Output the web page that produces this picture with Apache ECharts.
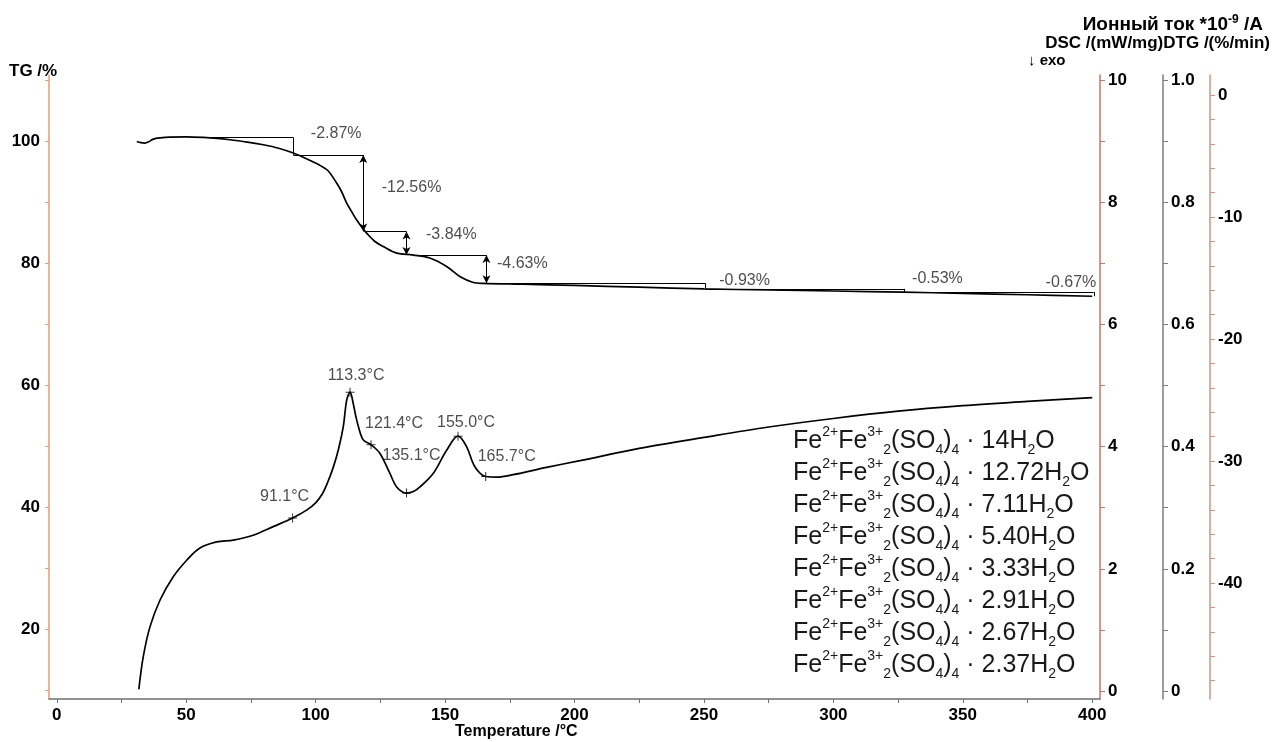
<!DOCTYPE html>
<html>
<head>
<meta charset="utf-8">
<title>TG / DSC</title>
<script src="https://cdn.jsdelivr.net/npm/echarts@6/dist/echarts.min.js"></script>
<style>
  html, body { margin: 0; padding: 0; background: #fff; }
  #chart { width: 1274px; height: 742px; }
</style>
</head>
<body>
<div id="chart"></div>
<script>
// TG curve: temperature (°C) and mass (%)
const tgTemp = [30.9, 32.5, 34.1, 35.5, 37.3, 40, 43.7, 50, 56.6, 62, 66.9, 73, 79.8, 86, 91.4,
  97.9, 102, 104.8, 108.1, 110, 112, 113.9, 115.8, 117.8, 119.7, 122.9, 126.1, 131.3, 137.7, 144.1,
  150.6, 155.7, 160.9, 164.7, 180, 200, 225, 250, 275, 300, 327, 350, 375, 400]
const tgValue = [100.0, 99.8, 99.74, 99.95, 100.39, 100.6, 100.72, 100.75, 100.66, 100.5, 100.28, 99.95, 99.46, 98.85, 98.1,
  96.87, 96.0, 95.2, 93.18, 91.8, 89.9, 88.5, 87.16, 85.97, 84.98, 83.6, 82.79, 81.7, 81.38, 80.89,
  79.51, 77.87, 76.89, 76.74, 76.6, 76.4, 76.12, 75.83, 75.66, 75.49, 75.3, 75.1, 74.87, 74.63]

// DSC curve: temperature (°C) and heat flow (mW/mg)
const dscTemp = [31.7, 33.4, 36, 39.9, 45, 50.2, 55.3, 61.8, 68.2, 75.9, 83.6, 91.1, 96.5, 100,
  102.5, 104.5, 106.8, 108.9, 110.7, 112, 113.3, 114.5, 115.5, 116.5, 118.4, 121.4, 124.8, 128.7, 131.3,
  135.1, 138, 140.3, 145.4, 150.6, 155, 158.3, 161.5, 165.7, 170, 176.3, 189.2, 202.1, 225, 250,
  275, 300, 325, 350, 375, 400]
const dscValue = [0.03, 0.56, 1.05, 1.49, 1.87, 2.14, 2.34, 2.44, 2.47, 2.55, 2.69, 2.83, 2.96, 3.08,
  3.22, 3.4, 3.66, 3.97, 4.33, 4.76, 4.89, 4.71, 4.5, 4.33, 4.11, 4.03, 3.89, 3.56, 3.34,
  3.24, 3.27, 3.34, 3.56, 3.94, 4.17, 4.0, 3.67, 3.51, 3.5, 3.54, 3.66, 3.77, 3.97, 4.15,
  4.32, 4.46, 4.58, 4.67, 4.74, 4.8]

// marked DSC points
const peakTemp = [91.1, 113.3, 121.4, 135.1, 155.0, 165.7]
const peakDsc = [2.83, 4.89, 4.03, 3.24, 4.17, 3.51]

// mass-loss steps
const tgStart = 100.66
const stepLoss = [-2.87, -12.56, -3.84, -4.63, -0.93, -0.53, -0.67]
const stepTemp = [91.4, 118.4, 135.1, 166.0, 250.7, 327.5, 400.6]
const stepFrom = [56.6, 91.4, 119.5, 137.6, 164.7, 250.7, 327.5]

// water content of the hydrate after each step
const hydrateWater = ['14', '12.72', '7.11', '5.40', '3.33', '2.91', '2.67', '2.37']

// axis ticks and labels
const xTicks = [0, 25, 50, 75, 100, 125, 150, 175, 200, 225, 250, 275, 300, 325, 350, 375, 400]
const xLabels = [0, 50, 100, 150, 200, 250, 300, 350, 400]
const tgTicks = [10, 20, 30, 40, 50, 60, 70, 80, 90, 100, 110]
const tgLabels = [20, 40, 60, 80, 100]
const dscTicks = [0, 1, 2, 3, 4, 5, 6, 7, 8, 9, 10]
const dscLabels = [0, 2, 4, 6, 8, 10]
const ionTicks = [0, 0.1, 0.2, 0.3, 0.4, 0.5, 0.6, 0.7, 0.8, 0.9, 1.0]
const ionLabels = [0, 0.2, 0.4, 0.6, 0.8, 1.0]
const dtgTicks = [0, -2, -4, -6, -8, -10, -12, -14, -16, -18, -20, -22, -24, -26, -28, -30,
  -32, -34, -36, -38, -40, -42, -44, -46, -48]
const dtgLabels = [0, -10, -20, -30, -40]

const FONT = '"Liberation Sans", Arial, sans-serif'

// label placement (px) and arrow style per step / peak
const stepArrow = [false, true, true, true, false, false, false]
const stepLabelOffset = [[17, -13], [18, -6], [19, -9], [10, -6], [13, -5], [7, -12], [3, -12]]
const peakLabelOffset = [[-8, -4], [6, 1], [23, -4], [5, -20], [8, 4], [21, -2]]

const levels = [tgStart]
stepLoss.forEach((loss, i) => levels.push(+(levels[i] + loss).toFixed(2)))

const stepLines = []
stepLoss.forEach((loss, i) => {
  stepLines.push([
    { coord: [stepFrom[i], levels[i]], symbol: 'none' },
    { coord: [stepTemp[i], levels[i]], symbol: 'none' }
  ])
  const sym = stepArrow[i] ? 'arrow' : 'none'
  stepLines.push([
    { coord: [stepTemp[i], levels[i]], symbol: sym },
    { coord: [stepTemp[i], levels[i + 1]], symbol: sym }
  ])
})

const rightAxis = (color, offset, min, max, ticks, labels, fmt) => ({
  type: 'value',
  position: 'right',
  offset,
  min,
  max,
  axisLine: { show: true, onZero: false, lineStyle: { color, width: 1.5 } },
  axisTick: { show: true, length: 5, customValues: ticks, lineStyle: { color } },
  axisLabel: {
    customValues: labels,
    margin: 8,
    color: '#000',
    fontFamily: FONT,
    fontWeight: 'bold',
    fontSize: 17,
    formatter: fmt
  },
  splitLine: { show: false }
})

const formulaLines = hydrateWater.map(w =>
  `{n|Fe}{sp|2+}{n|Fe}{sp|3+}{sb|2}{n|(SO}{sb|4}{n|)}{sb|4}{n| · ${w}H}{sb|2}{n|O}`)

const option = {
  animation: false,
  backgroundColor: '#fff',
  grid: { left: 49, right: 174, top: 75, bottom: 43 },
  xAxis: {
    type: 'value',
    min: -3,
    max: 403,
    axisLine: { onZero: false, lineStyle: { color: '#707070', width: 1.5 } },
    axisTick: { show: true, length: 4, customValues: xTicks, lineStyle: { color: '#707070' } },
    axisLabel: {
      customValues: xLabels,
      margin: 8,
      color: '#000',
      fontFamily: FONT,
      fontWeight: 'bold',
      fontSize: 17
    },
    splitLine: { show: false }
  },
  yAxis: [
    {
      type: 'value',
      position: 'left',
      min: 8.6,
      max: 110.9,
      axisLine: { show: true, onZero: false, lineStyle: { color: '#e39e74', width: 1.5 } },
      axisTick: { show: true, length: 4, customValues: tgTicks, lineStyle: { color: '#e39e74' } },
      axisLabel: {
        customValues: tgLabels,
        margin: 9,
        color: '#000',
        fontFamily: FONT,
        fontWeight: 'bold',
        fontSize: 17
      },
      splitLine: { show: false }
    },
    rightAxis('#bf7866', 0, -0.13, 10.08, dscTicks, dscLabels),
    rightAxis('#7c7c7c', 63, -0.013, 1.008, ionTicks, ionLabels, v => (v === 0 ? '0' : v.toFixed(1))),
    rightAxis('#d09584', 110, -49.5, 1.64, dtgTicks, dtgLabels)
  ],
  series: [
    {
      name: 'TG',
      type: 'line',
      yAxisIndex: 0,
      data: tgTemp.map((t, i) => [t, tgValue[i]]),
      showSymbol: false,
      smooth: 0.35,
      lineStyle: { color: '#000', width: 1.7 },
      markLine: {
        silent: true,
        symbol: ['none', 'none'],
        symbolSize: [6, 8],
        label: { show: false },
        lineStyle: { color: '#000', width: 1, type: 'solid' },
        data: stepLines
      }
    },
    {
      name: 'steps',
      type: 'scatter',
      yAxisIndex: 0,
      symbolSize: 1,
      itemStyle: { color: 'transparent' },
      silent: true,
      data: stepLoss.map((loss, i) => ({
        value: [stepTemp[i], (levels[i] + levels[i + 1]) / 2],
        label: {
          show: true,
          position: i === stepLoss.length - 1 ? 'left' : 'right',
          distance: 0,
          offset: stepLabelOffset[i],
          formatter: loss.toFixed(2) + '%'
        }
      })),
      label: { color: '#222', fontFamily: FONT, fontSize: 16 }
    },
    {
      name: 'DSC',
      type: 'line',
      yAxisIndex: 1,
      data: dscTemp.map((t, i) => [t, dscValue[i]]),
      showSymbol: false,
      smooth: 0.35,
      lineStyle: { color: '#000', width: 1.7 }
    },
    {
      name: 'peaks',
      type: 'scatter',
      yAxisIndex: 1,
      symbol: 'path://M4,0h1v4h4v1h-4v4h-1v-4h-4v-1h4z',
      symbolSize: 9,
      itemStyle: { color: '#000' },
      silent: true,
      data: peakTemp.map((t, i) => ({
        value: [t, peakDsc[i]],
        label: {
          show: true,
          position: 'top',
          distance: 5,
          offset: peakLabelOffset[i],
          formatter: t.toFixed(1) + '°C'
        }
      })),
      label: { color: '#222', fontFamily: FONT, fontSize: 16 }
    }
  ],
  graphic: [
    {
      type: 'text',
      left: 9,
      top: 63,
      style: { text: 'TG /%', fill: '#000', font: 'bold 17px ' + FONT }
    },
    {
      type: 'text',
      right: 11,
      top: 14,
      style: {
        text: '{b|Ионный ток *10}{s|-9}{b| /A}',
        fill: '#000',
        rich: {
          b: { fontFamily: FONT, fontWeight: 'bold', fontSize: 19, lineHeight: 22 },
          s: { fontFamily: FONT, fontWeight: 'bold', fontSize: 12, lineHeight: 20, verticalAlign: 'top' }
        }
      }
    },
    {
      type: 'text',
      right: 4,
      top: 35,
      style: { text: 'DSC /(mW/mg)DTG /(%/min)', fill: '#000', font: 'bold 17px ' + FONT }
    },
    {
      type: 'text',
      left: 1028,
      top: 53,
      style: { text: '↓ exo', fill: '#000', font: 'bold 15px ' + FONT }
    },
    {
      type: 'text',
      left: 455,
      top: 724,
      style: { text: 'Temperature /°C', fill: '#000', font: 'bold 16px ' + FONT }
    },
    {
      type: 'text',
      left: 793,
      top: 425,
      style: {
        text: formulaLines.join('\n'),
        fill: '#1a1a1a',
        rich: {
          n: { fontFamily: FONT, fontSize: 25, lineHeight: 32, fill: '#1a1a1a' },
          sp: { fontFamily: FONT, fontSize: 14, lineHeight: 24, verticalAlign: 'top', fill: '#1a1a1a' },
          sb: { fontFamily: FONT, fontSize: 14, lineHeight: 18, verticalAlign: 'bottom', fill: '#1a1a1a' }
        }
      }
    }
  ]
}

const chart = echarts.init(document.getElementById('chart'))
chart.setOption(option)
window.addEventListener('resize', () => chart.resize())
</script>
</body>
</html>
